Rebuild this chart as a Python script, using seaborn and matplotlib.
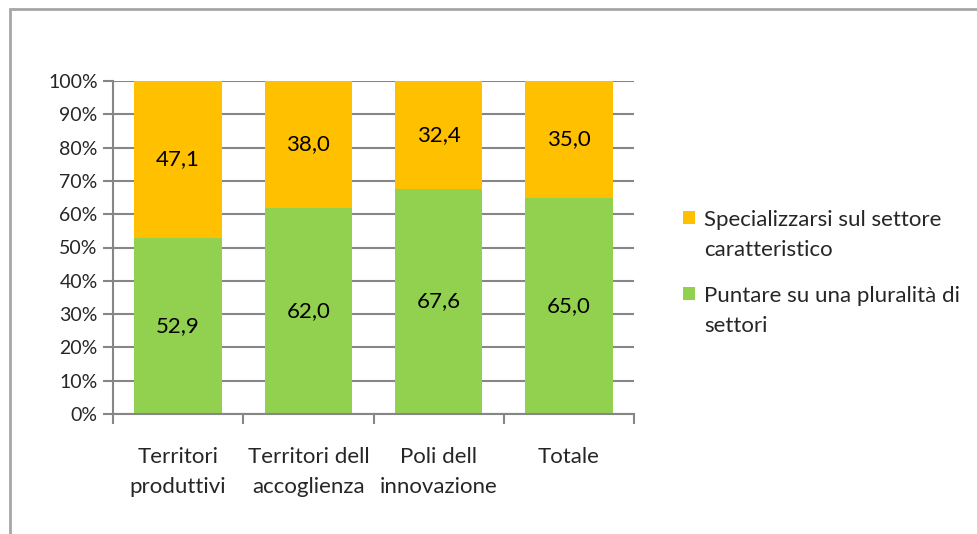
import numpy as np
import pandas as pd
import matplotlib
matplotlib.use("Agg")
import matplotlib.pyplot as plt
import seaborn as sns
from matplotlib.patches import Rectangle
from matplotlib.container import BarContainer
from matplotlib.legend_handler import HandlerPatch, update_from_first_child

# data
categories = ["Territori\nproduttivi", "Territori dell\naccoglienza", "Poli dell\ninnovazione", "Totale"]
puntare = [52.9, 62.0, 67.6, 65.0]
specializzarsi = [47.1, 38.0, 32.4, 35.0]
yticks = list(range(0, 101, 10))

lab_top = "Specializzarsi sul settore\ncaratteristico"
lab_bot = "Puntare su una pluralità di\nsettori"

green = "#92D050"
orange = "#FFC000"
grid_col = "#868686"

sns.set_style("white")
plt.rcParams["font.family"] = ["Lato", "DejaVu Sans"]

df = pd.DataFrame({"cat": categories, "bot": puntare, "top": specializzarsi})
df["total"] = df["bot"] + df["top"]

fig = plt.figure(figsize=(9.77, 5.34), dpi=100)
ax = fig.add_axes([113 / 977, 1 - 414 / 534, (634 - 113) / 977, (414 - 81) / 534])

sns.barplot(data=df, x="cat", y="total", color=orange, width=0.67, ax=ax,
            saturation=1, linewidth=0, label=lab_top, zorder=3)
sns.barplot(data=df, x="cat", y="bot", color=green, width=0.67, ax=ax,
            saturation=1, linewidth=0, label=lab_bot, zorder=3)

# value labels centred in each segment
for i, (b, t) in enumerate(zip(puntare, specializzarsi)):
    ax.text(i, b / 2, f"{b:.1f}".replace(".", ","), ha="center", va="center",
            fontsize=16, color="black", zorder=4)
    ax.text(i, b + t / 2, f"{t:.1f}".replace(".", ","), ha="center", va="center",
            fontsize=16, color="black", zorder=4)

ax.set_ylim(0, 100)
ax.set_xlim(-0.5, len(categories) - 0.5)
ax.set_yticks(yticks)
ax.set_yticklabels([f"{v}%" for v in yticks], fontsize=14)
ax.set_xticks(np.arange(len(categories)))
ax.set_xticklabels(categories, fontsize=16, linespacing=1.6)
ax.tick_params(axis="x", length=0, pad=24)
ax.tick_params(axis="y", length=7, width=1.5, color=grid_col, left=True, pad=4)
# ticks between categories on x
ax.set_xticks(np.arange(-0.5, len(categories)), minor=True)
ax.tick_params(axis="x", which="minor", length=7, width=1.5, color=grid_col, bottom=True)
ax.set_xlabel("")
ax.set_ylabel("")
ax.yaxis.grid(True, color=grid_col, linewidth=1.5, zorder=0)
ax.set_axisbelow(True)
for s in ["top", "right"]:
    ax.spines[s].set_visible(False)
for s in ["left", "bottom"]:
    ax.spines[s].set_color(grid_col)
    ax.spines[s].set_linewidth(1.5)
    ax.spines[s].set_zorder(5)


def top_square(legend, orig_handle, xdescent, ydescent, width, height, fontsize):
    # align legend marker with the first line of a two-line label
    return Rectangle((-xdescent, -ydescent + 0.8 * fontsize), width, height)


handler = HandlerPatch(patch_func=top_square, update_func=update_from_first_child)
leg = ax.legend(loc="upper left", bbox_to_anchor=(683 / 977, 1 - 210 / 534),
                bbox_transform=fig.transFigure, frameon=False, fontsize=16,
                handlelength=0.55, handleheight=0.55, handletextpad=0.4,
                labelspacing=1.15, borderaxespad=0, borderpad=0,
                handler_map={BarContainer: handler, Rectangle: handler})
for t in leg.get_texts():
    t.set_linespacing(1.65)

# outer chart frame
fig.patches.append(Rectangle((10 / 977, -0.1), 1.2, 1 - 9 / 534 + 0.1,
                             transform=fig.transFigure, fill=False,
                             edgecolor="#A6A6A6", linewidth=2))

fig.savefig("out.png", dpi=100)
